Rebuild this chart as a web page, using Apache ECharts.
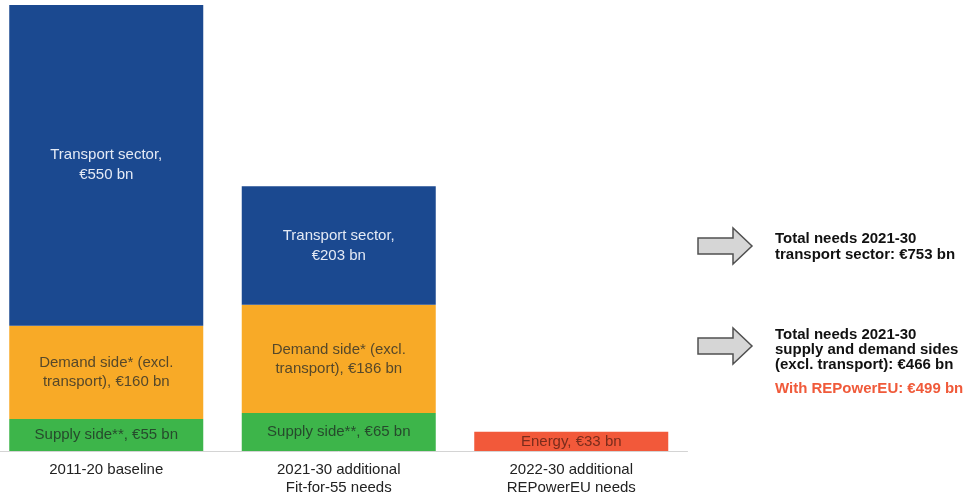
<!DOCTYPE html>
<html><head><meta charset="utf-8">
<script src="https://cdn.jsdelivr.net/npm/echarts@6/dist/echarts.min.js"></script>
<style>html,body{margin:0;padding:0;background:#fff;overflow:hidden;}#c{position:absolute;left:-10px;top:0;width:983px;height:497px;}</style>
</head><body><div id="c"></div>
<script>
const categories = ["2011-20 baseline", "2021-30 additional\nFit-for-55 needs", "2022-30 additional\nREPowerEU needs"];
const supplySide = [55, 65, null];
const demandSide = [160, 186, null];
const transportSector = [550, 203, null];
const energy = [null, null, 33];
const noteLines1 = ["Total needs 2021-30", "transport sector: €753 bn"];
const noteLines2 = ["Total needs 2021-30", "supply and demand sides", "(excl. transport): €466 bn"];
const noteRed = "With REPowerEU: €499 bn";

const FONT = 'Liberation Sans, Arial, sans-serif';
const OX = 10; // chart canvas is shifted 10px to the left of the page
const chart = echarts.init(document.getElementById('c'), null, {renderer: 'canvas'});

function lbl(color, fmt, lh) {
  return {show: true, position: 'inside', color: color, fontFamily: FONT, fontSize: 15, lineHeight: lh || 18, formatter: fmt};
}

function arrow(y) {
  const x0 = 698 + OX, xh = 733 + OX, xt = 752 + OX;
  return {
    type: 'polygon', z: 10,
    shape: {points: [[x0, y - 8], [xh, y - 8], [xh, y - 18], [xt, y], [xh, y + 18], [xh, y + 8], [x0, y + 8]]},
    style: {fill: '#d6d6d6', stroke: '#505050', lineWidth: 1.5}
  };
}

chart.setOption({
  animation: false,
  grid: {left: 0, right: 285.5, top: 5, bottom: 45, containLabel: false},
  xAxis: {
    type: 'category', data: categories,
    axisLine: {show: true, lineStyle: {color: '#d4d4d4', width: 1}},
    axisTick: {show: false},
    axisLabel: {color: '#222', fontFamily: FONT, fontSize: 15, lineHeight: 18, margin: 10, interval: 0}
  },
  yAxis: {type: 'value', min: 0, max: 765, show: false, splitLine: {show: false}},
  series: [
    {name: 'Supply side', type: 'bar', stack: 'a', barWidth: 194, data: supplySide,
     itemStyle: {color: '#3db54a'},
     label: lbl('#264a2c', p => 'Supply side**, €' + p.value + ' bn')},
    {name: 'Demand side', type: 'bar', stack: 'a', barWidth: 194, data: demandSide,
     itemStyle: {color: '#f8aa27'},
     label: lbl('#56482a', p => 'Demand side* (excl.\ntransport), €' + p.value + ' bn', 19)},
    {name: 'Transport sector', type: 'bar', stack: 'a', barWidth: 194, data: transportSector,
     itemStyle: {color: '#1b4990'},
     label: lbl('#e4eaf5', p => 'Transport sector,\n€' + p.value + ' bn', 20)},
    {name: 'Energy', type: 'bar', stack: 'a', barWidth: 194, data: energy,
     itemStyle: {color: '#f2593a'},
     label: lbl('#7a2c1c', p => 'Energy, €' + p.value + ' bn')}
  ],
  graphic: [
    arrow(246),
    arrow(346),
    {type: 'text', left: 775 + OX, top: 231, z: 10,
     style: {text: noteLines1.join('\n'), font: 'bold 15px ' + FONT, fill: '#111', lineHeight: 16}},
    {type: 'text', left: 775 + OX, top: 327, z: 10,
     style: {text: noteLines2.join('\n'), font: 'bold 15px ' + FONT, fill: '#111', lineHeight: 15}},
    {type: 'text', left: 775 + OX, top: 381, z: 10,
     style: {text: noteRed, font: 'bold 15px ' + FONT, fill: '#f05a3a'}}
  ]
});
</script>
</body></html>
